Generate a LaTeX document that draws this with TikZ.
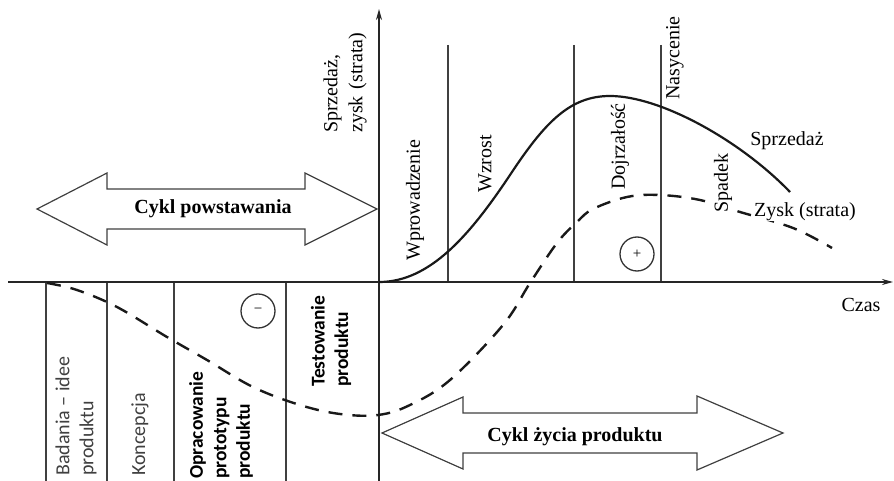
\documentclass[tikz,border=0pt]{standalone}
\usepackage{fontspec}
\setmainfont{Liberation Serif}
\newfontfamily\sansf{Carlito}
\usetikzlibrary{arrows.meta}
\begin{document}
\begin{tikzpicture}[x=1pt,y=-1pt,
  serifl/.style={font=\fontsize{20}{25}\selectfont, inner sep=0pt, align=left},
  sansl/.style={font=\sansf\fontsize{20}{24}\selectfont, inner sep=0pt, align=left},
  sansb/.style={font=\sansf\bfseries\fontsize{19.5}{23.5}\selectfont, inner sep=0pt, align=left},
  axisline/.style={line width=1.6pt, black!85},
  divline/.style={line width=1.1pt, black!75},
  bigarrow/.style={line width=1.2pt, black!75, fill=white, line join=miter},
  salescurve/.style={line width=2.2pt, black!90},
  profitcurve/.style={line width=2.4pt, black!90, dash pattern=on 14pt off 10pt},
  signcircle/.style={circle, draw=black!80, line width=1.3pt, minimum size=34pt, inner sep=0pt, font=\fontsize{15}{15}\selectfont}
]
\useasboundingbox (0,0) rectangle (894,481);

% coordinates
\coordinate (xstart) at (8,282);
\coordinate (xend) at (893,282);
\coordinate (ybot) at (379,481);
\coordinate (ytop) at (379,9);

% divider lines (top)
\foreach \x in {448,574,661} {\draw[divline] (\x,45) -- (\x,282);}
% divider lines (bottom)
\foreach \x in {46,107,174,286} {\draw[divline] (\x,282) -- (\x,481);}

% axes
\draw[axisline, -{Stealth[length=11pt,width=6pt]}] (xstart) -- (xend);
\draw[axisline, -{Stealth[length=11pt,width=6pt]}] (ybot) -- (ytop);

% big double arrows
\draw[bigarrow] (37,209) -- (107,173) -- (107,189) -- (305,189) -- (305,173) -- (377,209)
  -- (305,245) -- (305,229) -- (107,229) -- (107,245) -- cycle;
\node[font=\bfseries\fontsize{20}{24}\selectfont, inner sep=0pt] (cpow) at (213,209) {Cykl powstawania};

\draw[bigarrow] (382,433) -- (463,397) -- (463,413) -- (697,413) -- (697,396) -- (783,433)
  -- (697,470) -- (697,453) -- (463,453) -- (463,469) -- cycle;
\node[font=\bfseries\fontsize{20}{24}\selectfont, inner sep=0pt] (czyc) at (575,437) {Cykl życia produktu};

% sales curve
\coordinate (s0) at (379,282);
\coordinate (s1) at (510,175);
\coordinate (s2) at (610,96);
\coordinate (s3) at (790,192);
\draw[salescurve] (s0) .. controls (430,282) and (470,235) .. (s1)
  .. controls (545,122) and (570,96) .. (s2)
  .. controls (660,96) and (740,140) .. (s3);

% profit curve
\draw[profitcurve] plot[smooth, tension=0.6] coordinates {
  (47,283) (77,290) (117,307) (167,337) (207,360) (253,387) (300,405) (340,414) (378,415)
  (410,405) (450,380) (503,325) (530,283) (557,243) (577,222) (593,209) (627,197) (660,195)
  (700,200) (740,212) (793,228) (832,248)};

% sign circles
\node[signcircle] (minus) at (258,311) {−};
\node[signcircle] (plus) at (637,254) {+};

% axis labels
\node[serifl, rotate=90, anchor=west] (ylab) at (345,133) {Sprzedaż,\\zysk\hspace{7pt}(strata)};
\node[serifl] (czas) at (861,305) {Czas};

% stage labels (top)
\node[serifl, rotate=90, anchor=west] (wprow) at (415,261) {Wprowadzenie};
\node[serifl, rotate=90, anchor=west] (wzrost) at (485,193) {Wzrost};
\node[serifl, rotate=90, anchor=west] (dojrz) at (620,190) {Dojrzałość};
\node[serifl, rotate=90, anchor=west] (nasyc) at (675,100) {Nasycenie};
\node[serifl, rotate=90, anchor=west, fill=white, inner sep=1pt] (spadek) at (723,214) {Spadek};
\node[serifl] (sprz) at (787,141) {Sprzedaż};
\node[serifl, fill=white, inner xsep=2pt, inner ysep=0pt] (zysk) at (805,212) {Zysk (strata)};

% stage labels (bottom)
\node[sansl, black!75, rotate=90, anchor=west] (badania) at (76,476) {Badania – idee\\produktu};
\node[sansl, black!75, rotate=90, anchor=west] (konc) at (140,476) {Koncepcja};
\node[sansb, rotate=90, anchor=west] (oprac) at (221,479) {Opracowanie\\prototypu\\produktu};
\node[sansb, rotate=90, anchor=west] (test) at (331,387) {Testowanie\\produktu};
\end{tikzpicture}
\end{document}
